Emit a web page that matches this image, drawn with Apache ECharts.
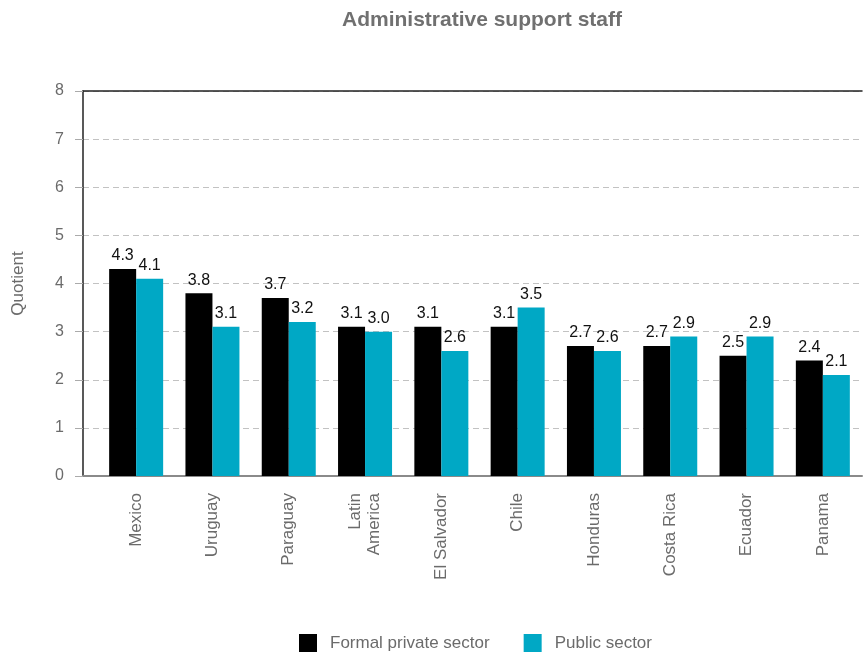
<!DOCTYPE html>
<html>
<head>
<meta charset="utf-8">
<script src="https://cdn.jsdelivr.net/npm/echarts@6/dist/echarts.min.js"></script>
<style>
  html, body { margin: 0; padding: 0; background: #fff; }
  #chart { width: 865px; height: 653px; }
</style>
</head>
<body>
<div id="chart"></div>
<script>
// Occupation quotients by country and sector
const categories = ['Mexico', 'Uruguay', 'Paraguay', 'Latin\nAmerica', 'El Salvador', 'Chile', 'Honduras', 'Costa Rica', 'Ecuador', 'Panama'];
const privateSector = [4.3, 3.8, 3.7, 3.1, 3.1, 3.1, 2.7, 2.7, 2.5, 2.4];
const publicSector = [4.1, 3.1, 3.2, 3.0, 2.6, 3.5, 2.6, 2.9, 2.9, 2.1];
const seriesNames = ['Formal private sector', 'Public sector'];
const yTicks = [0, 1, 2, 3, 4, 5, 6, 7, 8];

const FONT = '"Liberation Sans", Arial, Helvetica, sans-serif';
const GRAY = '#6b6b6b';
const COLORS = ['#000000', '#00A8C5'];

const chart = echarts.init(document.getElementById('chart'), null, { renderer: 'canvas' });

const barLabel = {
  show: true,
  position: 'top',
  distance: 5,
  color: '#111',
  fontSize: 16,
  fontFamily: FONT,
  formatter: p => p.value.toFixed(1)
};

chart.setOption({
  backgroundColor: '#fff',
  animation: false,
  textStyle: { fontFamily: FONT },
  title: {
    text: 'Administrative support staff',
    left: 482,
    textAlign: 'center',
    top: 10,
    padding: 0,
    textStyle: { color: '#707070', fontSize: 21, fontWeight: 'bold', fontFamily: FONT }
  },
  legend: {
    top: 634,
    left: 299,
    padding: 0,
    itemWidth: 18,
    itemHeight: 18,
    itemGap: 34,
    icon: 'rect',
    textStyle: { color: GRAY, fontSize: 17, fontFamily: FONT, padding: [0, 0, 0, 8] },
    data: seriesNames
  },
  grid: [
    // frame: y axis, gridlines, top and bottom rules
    { left: 83, right: 3, top: 91, bottom: 177 },
    // bars
    { left: 98, right: 4, top: 91, bottom: 177 }
  ],
  xAxis: [
    {
      gridIndex: 0, type: 'value', min: 0, max: 1, position: 'bottom',
      axisLine: { show: true, onZero: false, lineStyle: { color: '#8a8a8a', width: 2 } },
      axisTick: { show: false }, axisLabel: { show: false }, splitLine: { show: false }
    },
    {
      gridIndex: 0, type: 'value', min: 0, max: 1, position: 'top',
      axisLine: { show: true, onZero: false, lineStyle: { color: '#222', width: 1.5 } },
      axisTick: { show: false }, axisLabel: { show: false }, splitLine: { show: false }
    },
    {
      gridIndex: 1, type: 'category', data: categories,
      axisLine: { show: false }, axisTick: { show: false },
      axisLabel: {
        rotate: 90, margin: 17, color: GRAY, fontSize: 17, fontFamily: FONT,
        interval: 0, lineHeight: 19
      }
    }
  ],
  yAxis: [
    {
      gridIndex: 0, type: 'value', min: yTicks[0], max: yTicks[yTicks.length - 1], interval: 1,
      name: 'Quotient', nameLocation: 'middle', nameGap: 56,
      nameTextStyle: { color: GRAY, fontSize: 17, fontFamily: FONT },
      axisLine: { show: true, lineStyle: { color: '#222', width: 1.5 } },
      axisTick: { show: true, length: 8, lineStyle: { color: '#aaa' } },
      axisLabel: { color: GRAY, fontSize: 16, fontFamily: FONT, margin: 19 },
      splitLine: {
        show: true,
        lineStyle: { color: '#c2c2c2', type: [6, 4], width: 1.2 }
      }
    },
    {
      gridIndex: 1, type: 'value', min: yTicks[0], max: yTicks[yTicks.length - 1],
      show: false, splitLine: { show: false }
    }
  ],
  series: [
    {
      name: seriesNames[0], type: 'bar', xAxisIndex: 2, yAxisIndex: 1,
      data: privateSector, barWidth: 27, barGap: '0%',
      itemStyle: { color: COLORS[0] }, label: barLabel
    },
    {
      name: seriesNames[1], type: 'bar', xAxisIndex: 2, yAxisIndex: 1,
      data: publicSector, barWidth: 27, barGap: '0%',
      itemStyle: { color: COLORS[1] }, label: barLabel
    }
  ]
});
</script>
</body>
</html>
